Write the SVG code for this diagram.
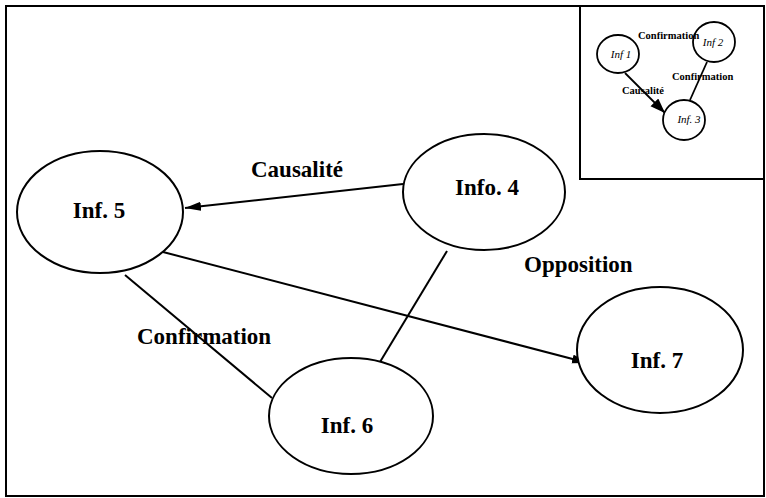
<svg xmlns="http://www.w3.org/2000/svg" width="766" height="498" viewBox="0 0 766 498">
  <defs>
    <marker id="arrow" markerUnits="userSpaceOnUse" markerWidth="18" markerHeight="10" refX="16" refY="4.5" orient="auto">
      <path d="M0,0 L16,4.5 L0,9 z" fill="#000"/>
    </marker>
    <marker id="arrowSmall" markerUnits="userSpaceOnUse" markerWidth="16" markerHeight="12" refX="15" refY="5.5" orient="auto">
      <path d="M0,0 L15,5.5 L0,11 z" fill="#000"/>
    </marker>
  </defs>
  <style>
    .frame { fill: none; stroke: #000; stroke-width: 2; }
    .node { fill: #fff; stroke: #000; stroke-width: 2; }
    .snode { fill: #fff; stroke: #000; stroke-width: 1.8; }
    .edge { fill: none; stroke: #000; stroke-width: 2; }
    .sedge { fill: none; stroke: #000; stroke-width: 1.8; }
    .lbl { font-family: "Liberation Serif", "Times New Roman", serif; font-weight: bold; font-size: 23px; fill: #000; }
    .nlbl { font-family: "Liberation Serif", "Times New Roman", serif; font-weight: bold; font-size: 23px; fill: #000; text-anchor: middle; }
    .slbl { font-family: "Liberation Serif", "Times New Roman", serif; font-weight: bold; font-size: 10.5px; fill: #000; }
    .snlbl { font-family: "Liberation Serif", "Times New Roman", serif; font-style: italic; font-size: 11px; fill: #000; text-anchor: middle; }
  </style>
  <rect width="766" height="498" fill="#fff"/>
  <rect class="frame" x="6" y="6" width="758" height="490"/>
  <g id="inset">
    <polyline class="frame" points="580,6 580,179 764,179"/>
  </g>

  <g id="connectors">
    <line class="edge" x1="403" y1="184" x2="185" y2="208" marker-end="url(#arrow)"/>
    <line class="edge" x1="163" y1="252" x2="588" y2="363" marker-end="url(#arrow)"/>
    <line class="edge" x1="125" y1="275" x2="272" y2="398"/>
    <line class="edge" x1="447" y1="251" x2="380" y2="362"/>
    <line class="sedge" x1="625" y1="73" x2="665" y2="113" marker-end="url(#arrowSmall)"/>
    <line class="sedge" x1="707" y1="62" x2="690" y2="100"/>
  </g>

  <g id="inf5">
    <ellipse class="node" cx="100" cy="212" rx="83" ry="61"/>
    <text class="nlbl" x="99" y="218">Inf. 5</text>
  </g>
  <g id="info4">
    <ellipse class="node" cx="484" cy="192" rx="81" ry="58"/>
    <text class="nlbl" x="487" y="195">Info. 4</text>
  </g>
  <g id="inf6">
    <ellipse class="node" cx="351" cy="416" rx="82" ry="58"/>
    <text class="nlbl" x="347" y="433">Inf. 6</text>
  </g>
  <g id="inf7">
    <ellipse class="node" cx="660" cy="350" rx="83" ry="63"/>
    <text class="nlbl" x="657" y="368">Inf. 7</text>
  </g>

  <g id="inf1">
    <ellipse class="snode" cx="618" cy="54" rx="21" ry="19"/>
    <text class="snlbl" x="621" y="58">Inf 1</text>
  </g>
  <g id="inf2">
    <ellipse class="snode" cx="714" cy="42" rx="21" ry="20"/>
    <text class="snlbl" x="713" y="46">Inf 2</text>
  </g>
  <g id="inf3">
    <ellipse class="snode" cx="684" cy="120" rx="21" ry="20"/>
    <text class="snlbl" x="689" y="123">Inf. 3</text>
  </g>

  <g id="labels">
    <text class="lbl" x="251" y="177">Causalité</text>
    <text class="lbl" x="524" y="272">Opposition</text>
    <text class="lbl" x="137" y="344">Confirmation</text>
    <text class="slbl" x="638" y="39">Confirmation</text>
    <text class="slbl" x="672" y="80">Confirmation</text>
    <text class="slbl" x="622" y="94">Causalité</text>
  </g>
</svg>
